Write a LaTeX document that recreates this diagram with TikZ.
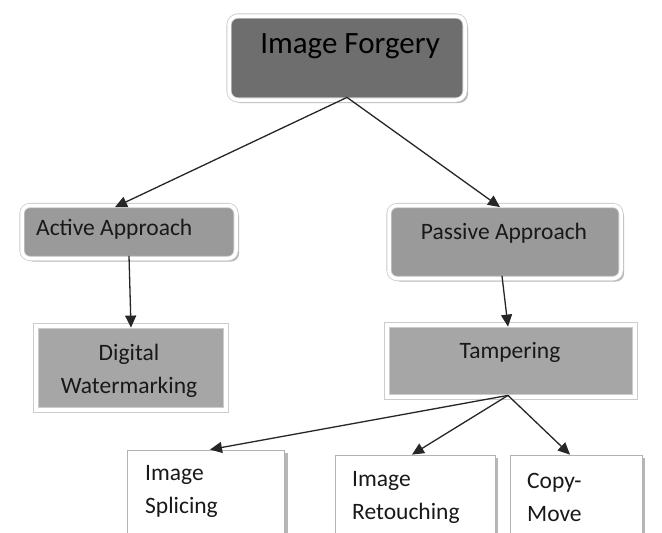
\documentclass[tikz,border=0pt]{standalone}
\usepackage{fontspec}
\setmainfont{Carlito}
\usetikzlibrary{arrows.meta,shadows}
\definecolor{darkfill}{HTML}{6E6E6E}
\definecolor{midfill}{HTML}{9A9A9A}
\definecolor{sqfill}{HTML}{A6A6A6}
\tikzset{
  shad/.style={drop shadow={shadow xshift=3pt, shadow yshift=-3pt, fill=black!40, opacity=0.7}},
  frame/.style={shad, draw=black!20, double=white, double distance=3.5pt, line width=0.8pt, inner sep=0pt},
  titlebox/.style={frame, fill=darkfill, rounded corners=9pt},
  roundbox/.style={frame, fill=midfill, rounded corners=8pt},
  sqbox/.style={frame, fill=sqfill},
  leafbox/.style={shad, draw=black!30, line width=0.8pt, fill=white, inner sep=0pt},
  ttl/.style={font=\fontsize{31}{36}\selectfont, text=black, inner sep=0pt},
  lbl/.style={font=\fontsize{23.5}{33}\selectfont, text=black!90, inner sep=0pt},
  conn/.style={draw=black!85, line width=1.3pt, -{Triangle[length=12pt,width=11pt]}}
}
\begin{document}
\begin{tikzpicture}[x=1pt,y=-1pt]
\useasboundingbox (0,0) rectangle (662,533);
\clip (0,0) rectangle (662,533);
\fill[white] (0,0) rectangle (662,533);
% boxes
\node[titlebox, minimum width=236pt, minimum height=84pt] (forg) at (347,58) {};
\node[ttl] (forgT) at (350,46) {Image Forgery};
\node[roundbox, minimum width=214pt, minimum height=53pt] (act) at (129,232) {};
\node[lbl, anchor=west] (actT) at (36,229) {Active Approach};
\node[roundbox, minimum width=232pt, minimum height=73pt] (pas) at (505,242) {};
\node[lbl] (pasT) at (504,233) {Passive Approach};
\node[sqbox, minimum width=190pt, minimum height=84pt] (dig) at (131,368) {};
\node[lbl, align=center] (digT) at (129,371) {Digital\\Watermarking};
\node[sqbox, minimum width=248pt, minimum height=72pt] (tam) at (511,361) {};
\node[lbl] (tamT) at (510,352) {Tampering};
\node[leafbox, minimum width=157pt, minimum height=92pt] (spl) at (206,496) {};
\node[lbl, anchor=west, align=left] (splT) at (145,491) {Image\\Splicing};
\node[leafbox, minimum width=160pt, minimum height=88pt] (ret) at (415,499) {};
\node[lbl, anchor=west, align=left] (retT) at (352,497) {Image\\Retouching};
\node[leafbox, minimum width=132pt, minimum height=88pt] (cpm) at (576,499) {};
\node[lbl, anchor=west, align=left] (cpmT) at (527,497) {Copy-\\Move};
% connectors
\draw[conn] ([yshift=3pt]forg.south) -- ([xshift=-14pt,yshift=-2pt]act.north);
\draw[conn] ([yshift=3pt]forg.south) -- ([xshift=-5pt,yshift=-2pt]pas.north);
\draw[conn] ([yshift=3pt]act.south) -- ([yshift=-2pt]dig.north);
\draw[conn] ([xshift=-3pt,yshift=3pt]pas.south) -- ([xshift=-3pt,yshift=-2pt]tam.north);
\draw[conn] ([xshift=-3pt,yshift=2pt]tam.south) -- ([xshift=4pt]spl.north);
\draw[conn] ([xshift=-3pt,yshift=2pt]tam.south) -- ([xshift=-3pt]ret.north);
\draw[conn] ([xshift=-3pt,yshift=2pt]tam.south) -- ([xshift=-6pt]cpm.north);
\end{tikzpicture}
\end{document}
